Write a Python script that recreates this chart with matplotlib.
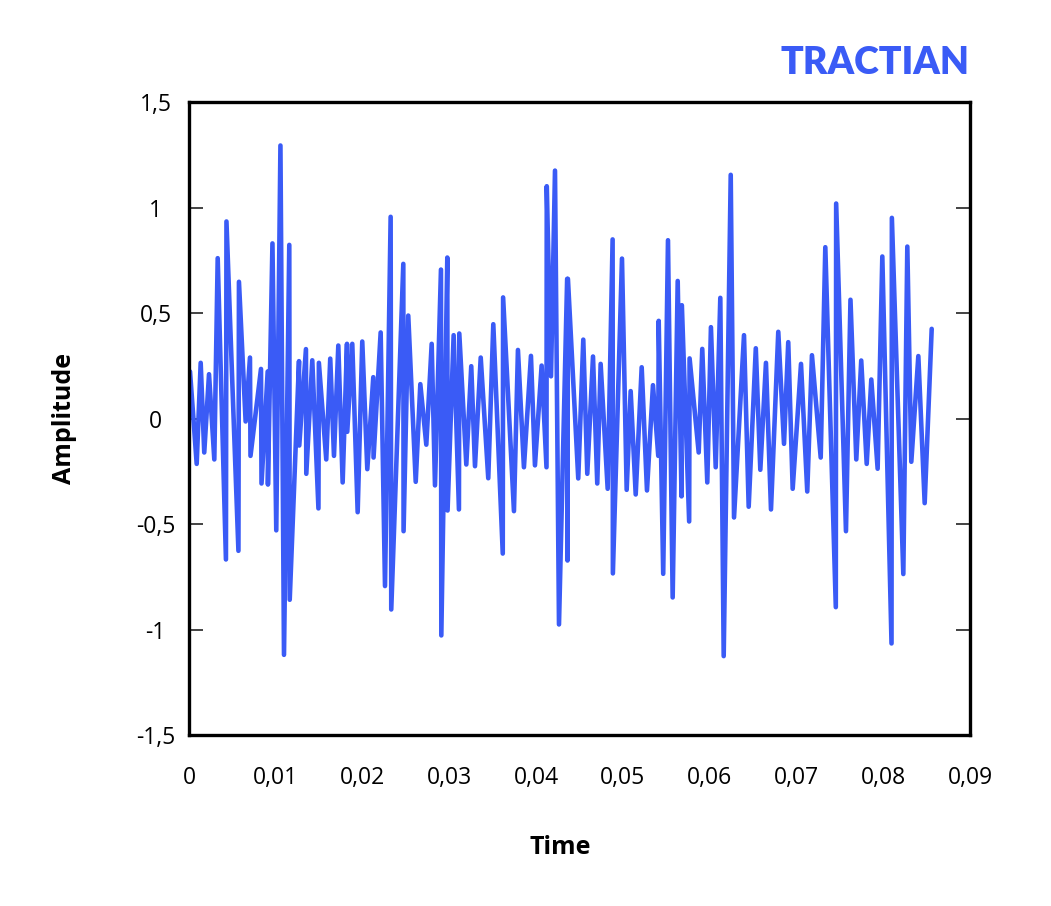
import matplotlib
matplotlib.use("Agg")
import matplotlib.pyplot as plt

# Data
time_s = [
    0.00012, 0.00089, 0.00135, 0.00176, 0.00231, 0.00292, 0.00331, 0.00426, 0.00432, 0.00570,
    0.00576, 0.00653, 0.00703, 0.00709, 0.00830, 0.00836, 0.00907, 0.00910, 0.00962, 0.01006,
    0.01054, 0.01095, 0.01156, 0.01161, 0.01268, 0.01271, 0.01348, 0.01352, 0.01421, 0.01492,
    0.01497, 0.01582, 0.01628, 0.01671, 0.01721, 0.01771, 0.01821, 0.01824, 0.01882, 0.01944,
    0.01997, 0.02055, 0.02124, 0.02127, 0.02209, 0.02259, 0.02324, 0.02331, 0.02470, 0.02473,
    0.02527, 0.02613, 0.02666, 0.02735, 0.02797, 0.02835, 0.02904, 0.02908, 0.02977, 0.02980,
    0.03050, 0.03111, 0.03115, 0.03196, 0.03253, 0.03296, 0.03362, 0.03449, 0.03507, 0.03616,
    0.03620, 0.03745, 0.03791, 0.03860, 0.03941, 0.03987, 0.04064, 0.04120, 0.04123, 0.04172,
    0.04218, 0.04264, 0.04358, 0.04362, 0.04367, 0.04486, 0.04544, 0.04590, 0.04656, 0.04705,
    0.04744, 0.04825, 0.04882, 0.04885, 0.04990, 0.05044, 0.05090, 0.05148, 0.05217, 0.05278,
    0.05347, 0.05408, 0.05413, 0.05465, 0.05520, 0.05574, 0.05632, 0.05676, 0.05680, 0.05764,
    0.05769, 0.05874, 0.05915, 0.05973, 0.06015, 0.06070, 0.06123, 0.06162, 0.06243, 0.06281,
    0.06396, 0.06450, 0.06532, 0.06584, 0.06649, 0.06707, 0.06791, 0.06857, 0.06906, 0.06957,
    0.07053, 0.07125, 0.07179, 0.07280, 0.07333, 0.07454, 0.07458, 0.07571, 0.07623, 0.07690,
    0.07747, 0.07810, 0.07863, 0.07936, 0.07990, 0.08096, 0.08100, 0.08232, 0.08278, 0.08324,
    0.08405, 0.08478, 0.08559,
]
amplitude = [
    0.223, -0.215, 0.264, -0.161, 0.210, -0.194, 0.760, -0.668, 0.934, -0.627,
    0.648, -0.014, 0.289, -0.177, 0.235, -0.308, 0.223, -0.313, 0.830, -0.530,
    1.294, -1.120, 0.823, -0.859, 0.272, -0.128, 0.329, -0.262, 0.276, -0.426,
    0.264, -0.194, 0.284, -0.177, 0.346, -0.303, 0.354, -0.063, 0.354, -0.444,
    0.365, -0.240, 0.196, -0.185, 0.408, -0.794, 0.956, -0.905, 0.733, -0.534,
    0.488, -0.300, 0.163, -0.124, 0.354, -0.317, 0.706, -1.028, 0.763, -0.436,
    0.395, -0.431, 0.403, -0.218, 0.248, -0.226, 0.289, -0.283, 0.447, -0.640,
    0.574, -0.439, 0.325, -0.231, 0.297, -0.222, 0.251, -0.231, 1.101, 0.200,
    1.175, -0.976, 0.662, -0.673, 0.662, -0.284, 0.374, -0.262, 0.294, -0.308,
    0.259, -0.333, 0.849, -0.734, 0.758, -0.338, 0.130, -0.360, 0.243, -0.341,
    0.158, -0.177, 0.463, -0.736, 0.845, -0.848, 0.652, -0.369, 0.537, -0.488,
    0.285, -0.161, 0.330, -0.303, 0.433, -0.231, 0.572, -1.126, 1.155, -0.469,
    0.395, -0.418, 0.333, -0.243, 0.264, -0.431, 0.411, -0.120, 0.362, -0.333,
    0.259, -0.346, 0.300, -0.185, 0.812, -0.894, 1.019, -0.534, 0.563, -0.194,
    0.275, -0.215, 0.185, -0.238, 0.768, -1.066, 0.951, -0.737, 0.815, -0.205,
    0.296, -0.401, 0.425,
]

x_ticks = [0, 0.01, 0.02, 0.03, 0.04, 0.05, 0.06, 0.07, 0.08, 0.09]
x_tick_labels = ["0", "0,01", "0,02", "0,03", "0,04", "0,05", "0,06", "0,07", "0,08", "0,09"]
y_ticks = [-1.5, -1, -0.5, 0, 0.5, 1, 1.5]
y_tick_labels = ["-1,5", "-1", "-0,5", "0", "0,5", "1", "1,5"]

LINE_COLOR = "#3A5BF6"
FONT = ["Open Sans", "DejaVu Sans"]

fig = plt.figure(figsize=(10.51, 9.06), dpi=100)
ax = fig.add_axes([0.1798, 0.1887, 0.7431, 0.6987])

ax.plot(time_s, amplitude, color=LINE_COLOR, linewidth=3.3, solid_joinstyle="round",
        solid_capstyle="round")

ax.set_xlim(0, 0.09)
ax.set_ylim(-1.5, 1.5)
ax.set_xticks(x_ticks)
ax.set_xticklabels(x_tick_labels, fontfamily=FONT, fontsize=16.5)
ax.set_yticks(y_ticks)
ax.set_yticklabels(y_tick_labels, fontfamily=FONT, fontsize=16.5, ha="center")

ax.tick_params(axis="y", direction="in", length=10, width=1.2, left=True, right=True,
               pad=24, color="#222222")
ax.tick_params(axis="x", length=0, pad=22)

for sp in ax.spines.values():
    sp.set_linewidth(2.4)
    sp.set_color("black")

ax.set_xlabel("Time", fontfamily=FONT, fontsize=18, fontweight="bold")
ax.set_ylabel("Amplitude", fontfamily=FONT, fontsize=18, fontweight="bold")
ax.xaxis.set_label_coords(0.475, -0.158)
ax.yaxis.set_label_coords(-0.143, 0.5)

fig.text(0.9229, 0.931, "TRACTIAN", ha="right", va="center", color=LINE_COLOR,
         fontsize=27, fontweight="heavy", fontfamily=["Lato", "DejaVu Sans"])

fig.savefig("out.png", dpi=100, facecolor="white")
